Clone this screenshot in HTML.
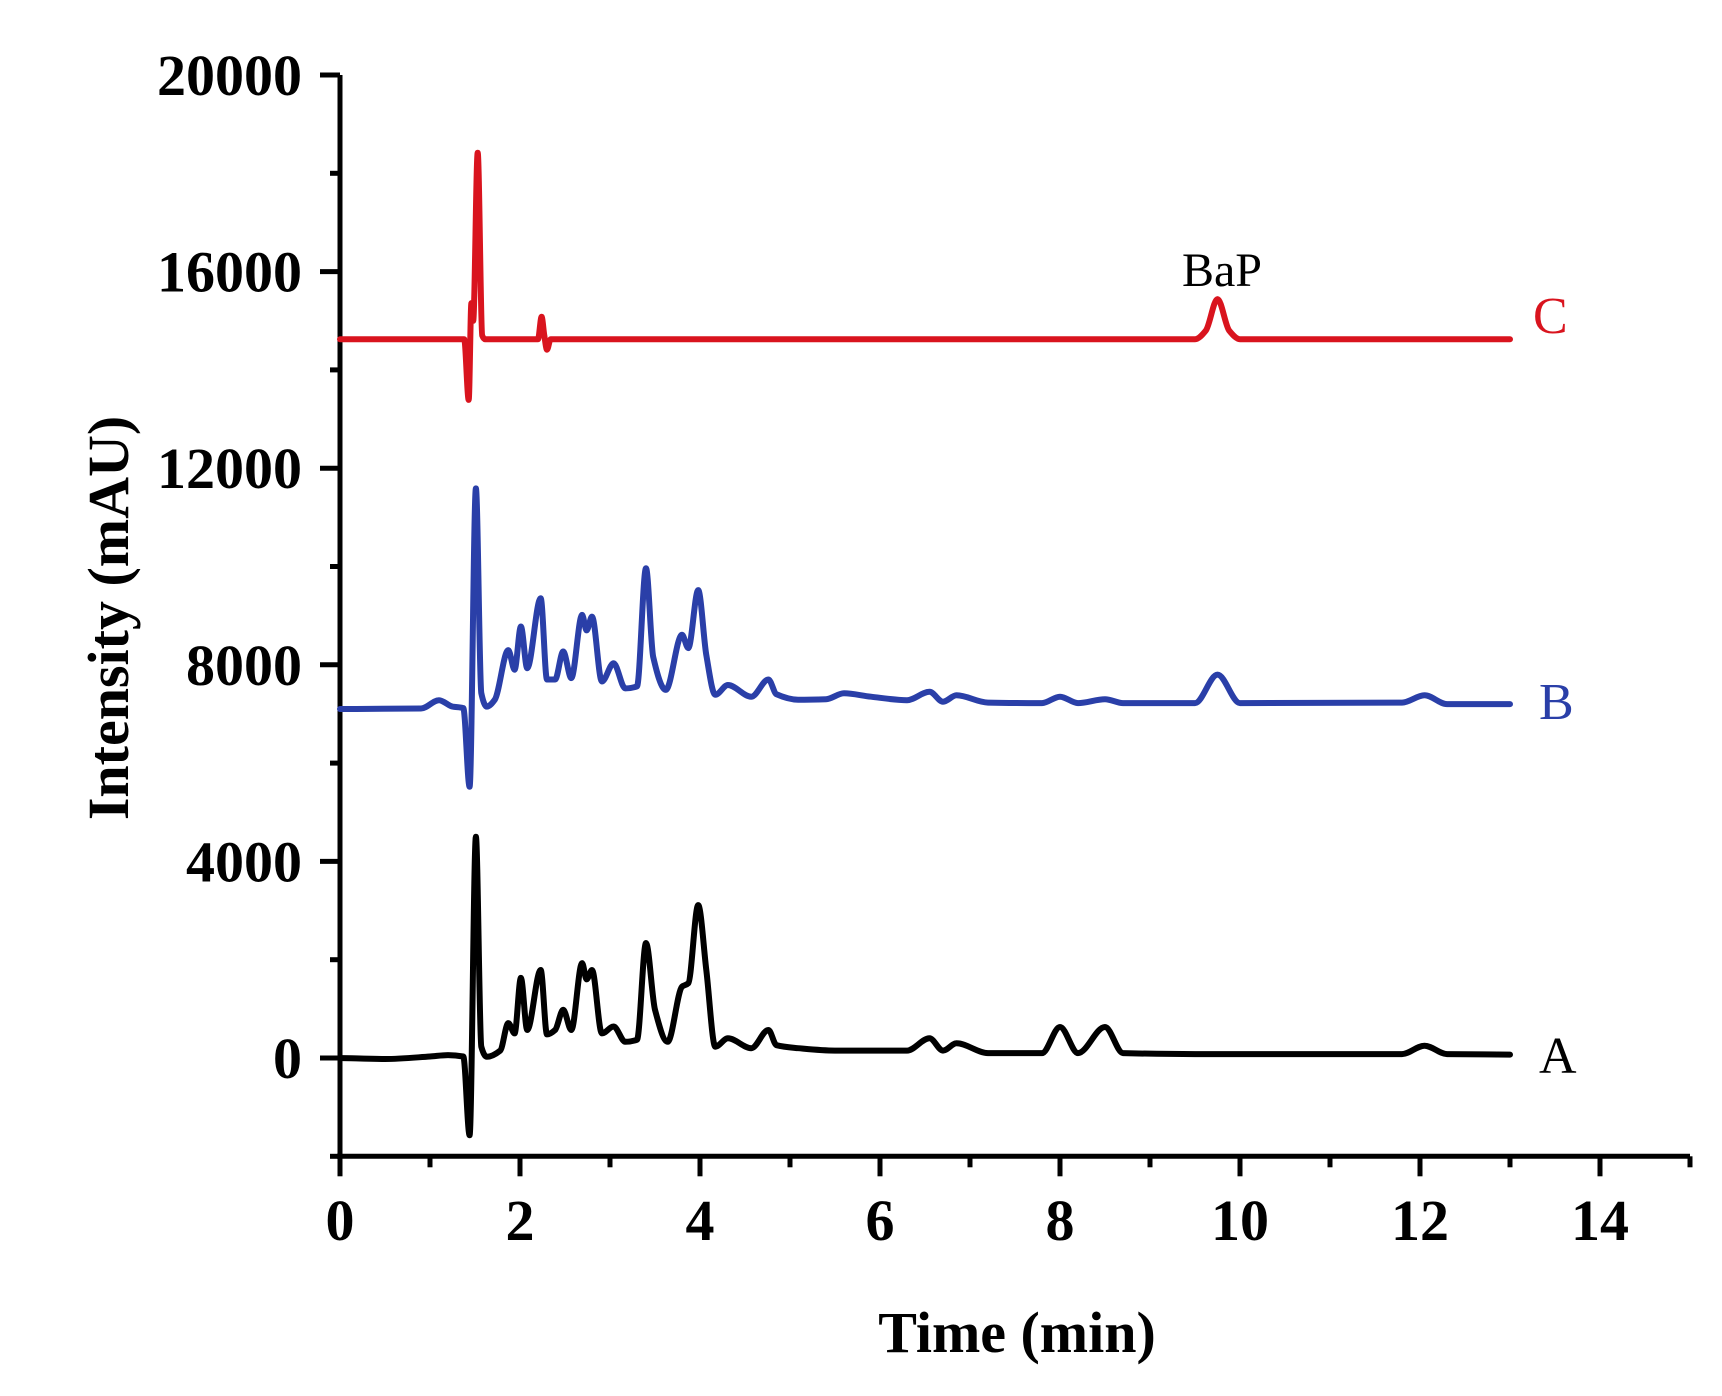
<!DOCTYPE html>
<html><head><meta charset="utf-8"><style>
html,body{margin:0;padding:0;background:#fff;}
svg{display:block;}
text{font-family:"Liberation Serif",serif;}
</style></head><body>
<svg id="chart" width="1722" height="1396" viewBox="0 0 1722 1396" xmlns="http://www.w3.org/2000/svg">
<g id="axes"></g>
<g id="series"></g>
<text x="0" y="0" transform="translate(128,618) rotate(-90)" text-anchor="middle" font-size="58" font-weight="bold">Intensity (mAU)</text>
<text x="1017" y="1352" text-anchor="middle" font-size="58" font-weight="bold">Time (min)</text>
<text x="1533" y="333" font-size="52" fill="#d9141e">C</text>
<text x="1539" y="719" font-size="52" fill="#2a3fa8">B</text>
<text x="1539" y="1073" font-size="52" fill="#000">A</text>
<text x="1222" y="286" text-anchor="middle" font-size="48" fill="#000">BaP</text>
</svg>
<script>
const xTicks = [0,2,4,6,8,10,12,14];
const yTicks = [0,4000,8000,12000,16000,20000];
const seriesATime = [0,0.5,1.0,1.2,1.37,1.44,1.51,1.57,1.63,1.78,1.87,1.94,2.01,2.08,2.23,2.30,2.39,2.48,2.57,2.69,2.74,2.80,2.91,3.04,3.17,3.30,3.40,3.50,3.64,3.80,3.87,3.98,4.07,4.17,4.31,4.57,4.76,4.85,5.09,5.5,6.3,6.55,6.7,6.85,7.2,7.8,8.0,8.2,8.5,8.7,9.5,10.5,11.8,12.05,12.3,13.0];
const seriesAValue = [0,-20,30,60,30,-1570,4500,230,25,150,710,500,1630,570,1790,480,570,980,570,1930,1600,1790,500,640,330,370,2340,980,330,1450,1520,3110,1790,230,400,200,570,260,200,150,150,400,150,300,100,100,630,100,630,100,80,80,80,250,80,70];
const seriesBTime = [0,0.9,1.1,1.25,1.37,1.44,1.51,1.57,1.63,1.72,1.87,1.94,2.01,2.08,2.23,2.30,2.39,2.48,2.57,2.69,2.74,2.80,2.91,3.04,3.17,3.30,3.40,3.48,3.62,3.80,3.87,3.98,4.07,4.17,4.31,4.57,4.76,4.85,5.09,5.4,5.6,5.9,6.3,6.55,6.7,6.85,7.2,7.8,8.0,8.2,8.5,8.7,9.5,9.75,10.0,11.8,12.05,12.3,13.0];
const seriesBValue = [7100,7110,7280,7150,7120,5520,11590,7425,7150,7290,8300,7900,8780,7930,9355,7700,7700,8270,7730,9015,8700,8980,7660,8030,7520,7560,9965,8160,7490,8610,8340,9520,8200,7390,7590,7350,7700,7400,7290,7300,7420,7350,7280,7450,7250,7380,7230,7220,7350,7220,7300,7220,7220,7800,7220,7230,7380,7200,7200];
const seriesCTime = [0,1.0,1.38,1.43,1.46,1.48,1.53,1.58,1.61,2.2,2.24,2.27,2.30,2.34,5,9.5,9.62,9.75,9.88,10.0,13.0];
const seriesCValue = [14625,14625,14625,13390,15360,15000,18420,14700,14625,14625,15080,14700,14410,14625,14625,14625,14800,15440,14800,14625,14625];

const X0 = 340, PXMIN = 90, Y0 = 1058, PXUNIT = 196.6/4000;
function xs(t){ return X0 + t*PXMIN; }
function ys(v){ return Y0 - v*PXUNIT; }
const NS = 'http://www.w3.org/2000/svg';
const axes = document.getElementById('axes');
const series = document.getElementById('series');
function mk(tag, attrs, parent){ const e=document.createElementNS(NS,tag); for(const k in attrs) e.setAttribute(k,attrs[k]); parent.appendChild(e); return e; }

const yAxis = mk('line',{x1:X0,y1:ys(20000),x2:X0,y2:ys(-2000)+2,stroke:'#000','stroke-width':5},axes);


const xAxis = mk('line',{x1:X0-3,y1:ys(-2000),x2:xs(15),y2:ys(-2000),stroke:'#000','stroke-width':5},axes);



for (let v=-2000; v<=20000; v+=2000){
  const major = v%4000===0;
  const t = mk('line',{x1:X0-(major?20:10),y1:ys(v),x2:X0,y2:ys(v),stroke:'#000','stroke-width':5},axes);
  
  
}
yTicks.forEach(v=>{
  const l = mk('text',{x:302,y:ys(v)+20,'text-anchor':'end','font-size':58,'font-weight':'bold'},axes);
  l.textContent = v;
  
  
});
for (let t=0; t<=15; t+=1){
  const major = t%2===0;
  const tk = mk('line',{x1:xs(t),y1:ys(-2000),x2:xs(t),y2:ys(-2000)+(major?20:11),stroke:'#000','stroke-width':5},axes);
  
  
}
xTicks.forEach(t=>{
  const l = mk('text',{x:xs(t),y:1240,'text-anchor':'middle','font-size':58,'font-weight':'bold'},axes);
  l.textContent = t;
  
  
});

function drawLine(times, vals, color, name){
  const P = times.map((t,i)=>[xs(t), ys(vals[i])]);
  const n = P.length;
  const sl = [];
  for (let i=0;i<n-1;i++) sl.push((P[i+1][1]-P[i][1])/(P[i+1][0]-P[i][0]));
  const m = [];
  for (let i=0;i<n;i++){
    if (i===0) m.push(sl[0]);
    else if (i===n-1) m.push(sl[n-2]);
    else if (sl[i-1]*sl[i] <= 0) m.push(0);
    else { const a=sl[i-1], b=sl[i]; m.push(2*a*b/(a+b)); }
  }
  let d = 'M' + P[0][0].toFixed(1) + ',' + P[0][1].toFixed(1);
  for (let i=0;i<n-1;i++){
    const h = (P[i+1][0]-P[i][0])/3;
    d += 'C' + (P[i][0]+h).toFixed(1)+','+(P[i][1]+m[i]*h).toFixed(1)+' '+(P[i+1][0]-h).toFixed(1)+','+(P[i+1][1]-m[i+1]*h).toFixed(1)+' '+P[i+1][0].toFixed(1)+','+P[i+1][1].toFixed(1);
  }
  const p = mk('path',{d:d,fill:'none',stroke:color,'stroke-width':6,'stroke-linejoin':'round','stroke-linecap':'round'},series);
  
  
}
drawLine(seriesATime, seriesAValue, '#000000', 'series-a-line');
drawLine(seriesBTime, seriesBValue, '#2a3fa8', 'series-b-line');
drawLine(seriesCTime, seriesCValue, '#d9141e', 'series-c-line');
</script>
</body></html>
